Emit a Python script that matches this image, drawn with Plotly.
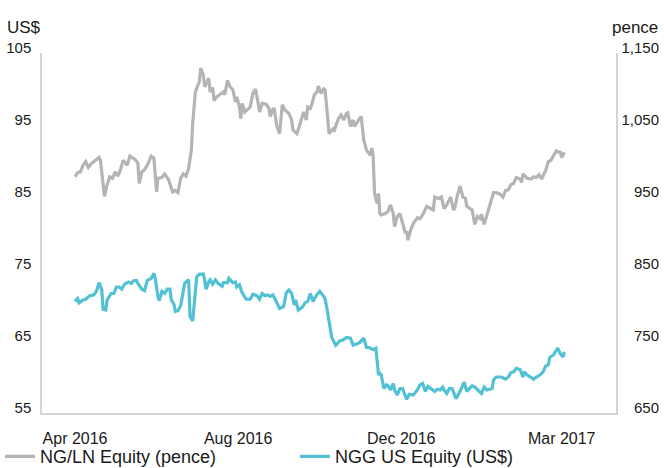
import pandas as pd
import plotly.graph_objects as go

# Series start date; observations are stored as day offsets from it
start = pd.Timestamp("2016-04-01")

# NG/LN Equity, price in pence
ng_ln_days = [
    0, 2, 4, 6, 8, 10, 12, 14, 16, 18,
    19, 21, 22, 24, 26, 28, 30, 32, 34, 36,
    39, 41, 43, 45, 47, 48, 50, 52, 54, 57,
    59, 61, 62, 65, 67, 70, 73, 75, 77, 79,
    81, 83, 85, 87, 88, 90, 92, 93, 94, 96,
    97, 99, 100, 101, 103, 104, 106, 108, 111, 112,
    114, 116, 118, 120, 121, 123, 124, 125, 127, 130,
    131, 133, 135, 137, 138, 140, 143, 145, 146, 148,
    149, 151, 153, 155, 157, 160, 162, 163, 166, 168,
    171, 173, 174, 176, 177, 179, 181, 182, 184, 186,
    187, 190, 193, 194, 197, 199, 201, 203, 204, 206,
    208, 209, 212, 214, 216, 218, 221, 222, 223, 224,
    226, 227, 228, 229, 232, 234, 236, 238, 239, 241,
    243, 245, 247, 248, 249, 251, 253, 256, 258, 260,
    263, 266, 268, 269, 272, 274, 276, 278, 281, 283,
    284, 286, 288, 290, 292, 293, 295, 297, 299, 301,
    303, 304, 306, 308, 310, 313, 315, 318, 320, 322,
    324, 326, 328, 330, 333, 334, 335, 338, 341, 343,
    345, 347, 349, 351, 352, 354, 356, 358, 360, 361,
    363, 364, 366,
]
ng_ln_pence = [
    978, 984, 985, 994, 999, 991, 996, 999, 1001, 1005,
    1001, 969, 951, 967, 978, 976, 985, 979, 988, 1001,
    994, 1007, 1004, 1002, 997, 969, 985, 988, 994, 1007,
    1004, 957, 976, 977, 982, 974, 957, 959, 956, 976,
    982, 979, 990, 1015, 1052, 1096, 1106, 1110, 1129, 1119,
    1103, 1112, 1115, 1096, 1102, 1084, 1089, 1092, 1096, 1092,
    1112, 1103, 1099, 1082, 1089, 1075, 1059, 1080, 1068, 1073,
    1075, 1094, 1100, 1080, 1068, 1080, 1079, 1073, 1062, 1072,
    1072, 1048, 1038, 1078, 1071, 1066, 1057, 1043, 1038, 1050,
    1068, 1057, 1075, 1073, 1078, 1092, 1096, 1104, 1094, 1100,
    1099, 1038, 1045, 1043, 1059, 1064, 1057, 1066, 1067, 1048,
    1057, 1048, 1057, 1062, 1029, 1015, 1008, 1018, 1006, 955,
    941, 955, 927, 925, 927, 930, 939, 927, 909, 923,
    927, 913, 900, 902, 890, 904, 913, 921, 920, 925,
    937, 934, 932, 950, 948, 950, 934, 939, 950, 932,
    934, 953, 965, 950, 948, 937, 934, 932, 912, 923,
    920, 926, 912, 924, 937, 956, 956, 954, 950, 959,
    960, 967, 969, 977, 975, 970, 982, 976, 975, 978,
    977, 981, 975, 983, 987, 999, 1001, 1008, 1014, 1013,
    1012, 1005, 1012,
]

# NGG US Equity, price in US$
ngg_days = [
    0, 2, 3, 6, 8, 11, 14, 16, 18, 20,
    21, 23, 24, 27, 29, 31, 33, 35, 37, 40,
    42, 44, 46, 47, 50, 52, 54, 57, 59, 60,
    62, 63, 65, 67, 69, 71, 72, 74, 75, 77,
    79, 81, 82, 85, 86, 88, 90, 91, 93, 96,
    97, 98, 100, 101, 103, 105, 107, 110, 111, 114,
    115, 118, 120, 121, 123, 125, 128, 131, 133, 136,
    138, 140, 142, 144, 146, 148, 151, 153, 156, 158,
    160, 162, 164, 165, 167, 170, 172, 174, 176, 178,
    180, 183, 186, 187, 189, 192, 195, 198, 200, 203,
    206, 208, 211, 213, 216, 218, 220, 223, 225, 227,
    228, 229, 231, 233, 234, 236, 238, 239, 241, 243,
    245, 247, 248, 250, 253, 256, 258, 260, 262, 264,
    267, 269, 271, 273, 275, 276, 278, 280, 282, 283,
    285, 288, 291, 293, 295, 297, 299, 302, 304, 306,
    308, 312, 313, 315, 319, 322, 324, 326, 328, 330,
    333, 335, 336, 338, 341, 343, 345, 348, 350, 352,
    354, 355, 358, 361, 363, 365, 366,
]
ngg_usd = [
    70.5, 70.9, 70.3, 70.7, 70.8, 71.3, 71.4, 71.9, 73.1, 72.1,
    69.4, 69.3, 70.7, 71.6, 71.6, 72.5, 72.5, 72.2, 72.9, 73.2,
    73.0, 73.4, 73.4, 73.0, 72.2, 72.0, 73.4, 73.7, 74.4, 73.7,
    71.2, 70.6, 71.9, 71.6, 72.2, 72.2, 70.7, 70.1, 69.1, 69.2,
    69.9, 71.9, 73.0, 73.5, 68.4, 67.8, 71.2, 73.9, 74.3, 74.3,
    73.4, 72.2, 73.2, 73.5, 72.9, 73.5, 73.0, 72.6, 73.1, 73.1,
    73.7, 73.1, 73.2, 72.5, 72.8, 71.7, 70.8, 70.8, 71.5, 71.3,
    70.8, 71.6, 71.3, 71.4, 71.2, 71.4, 70.3, 69.5, 69.8, 71.7,
    72.1, 71.6, 70.0, 70.7, 69.3, 69.7, 70.3, 70.5, 71.6, 70.5,
    71.2, 71.9, 71.2, 70.9, 68.9, 65.5, 64.4, 65.0, 65.1, 65.5,
    65.4, 64.4, 64.6, 64.8, 65.4, 64.1, 64.1, 63.8, 64.0, 60.3,
    60.5, 60.3, 58.4, 58.9, 58.8, 58.2, 59.1, 58.2, 57.5, 58.4,
    58.4, 57.2, 56.9, 57.6, 57.5, 58.2, 58.9, 59.1, 58.0, 58.7,
    58.2, 58.0, 58.3, 58.2, 58.6, 58.2, 57.7, 58.4, 58.4, 58.0,
    57.0, 58.0, 59.3, 58.0, 58.4, 58.8, 58.6, 58.0, 57.7, 58.6,
    58.2, 58.4, 59.6, 60.0, 60.0, 59.7, 60.0, 60.6, 60.7, 61.2,
    61.0, 60.0, 60.7, 60.3, 60.0, 59.7, 60.0, 60.3, 60.7, 61.5,
    61.7, 62.7, 63.1, 64.0, 63.2, 62.8, 63.5,
]

# Axis ticks
tick_dates = ["2016-04-01", "2016-08-01", "2016-12-01", "2017-03-31"]
tick_text = ["Apr 2016", "Aug 2016", "Dec 2016", "Mar 2017"]
usd_ticks = [55, 65, 75, 85, 95, 105]
pence_ticks = [650, 750, 850, 950, 1050, 1150]

GREY = "#b4b4b4"
CYAN = "#52c1d4"
AXIS = "#d4d4d4"
TEXT = "#1a1a1a"
FONT = "Liberation Sans, Arial, Helvetica, sans-serif"

ng_dates = start + pd.to_timedelta(ng_ln_days, unit="D")
ngg_dates = start + pd.to_timedelta(ngg_days, unit="D")

fig = go.Figure()
fig.add_trace(go.Scatter(
    x=ng_dates, y=ng_ln_pence, yaxis="y2", mode="lines",
    name="NG/LN Equity (pence)",
    line=dict(color=GREY, width=3.2),
))
fig.add_trace(go.Scatter(
    x=ngg_dates, y=ngg_usd, yaxis="y", mode="lines",
    name="NGG US Equity (US$)",
    line=dict(color=CYAN, width=3.2),
))

fig.update_layout(
    width=664, height=468,
    margin=dict(l=42, r=4, t=53, b=55, pad=0, autoexpand=False),
    paper_bgcolor="white", plot_bgcolor="white",
    font=dict(family=FONT, color=TEXT, size=15),
    showlegend=True,
    legend=dict(
        orientation="h", xref="container", yref="container",
        x=0.0, y=0.024, xanchor="left", yanchor="middle",
        font=dict(size=18), entrywidth=250, entrywidthmode="pixels",
        bgcolor="rgba(0,0,0,0)", borderwidth=0,
    ),
    xaxis=dict(
        type="date", domain=[0, 0.9288], automargin=False,
        range=[start - pd.Timedelta(days=24.7), start + pd.Timedelta(days=404.6)],
        tickvals=tick_dates, ticktext=tick_text,
        showline=True, linecolor=AXIS, linewidth=1.5,
        showgrid=False, zeroline=False, ticks="",
        tickfont=dict(size=16), ticklabelstandoff=10,
    ),
    yaxis=dict(
        range=[55, 105], tickvals=usd_ticks, automargin=False,
        showline=True, mirror=True, linecolor=AXIS, linewidth=1.5,
        showgrid=False, zeroline=False, ticks="",
        tickfont=dict(size=15), ticklabelshift=-5, ticklabelstandoff=6,
    ),
    # pence scale: labels right-aligned against the right edge of the figure
    yaxis2=dict(
        overlaying="y", anchor="free", position=1.0, side="left",
        automargin=False,
        range=[650, 1150], tickvals=pence_ticks, tickformat=",",
        showline=False, showgrid=False, zeroline=False, ticks="",
        tickfont=dict(size=15), ticklabelshift=-5, ticklabelstandoff=1,
    ),
    annotations=[
        dict(text="US$", xref="paper", yref="paper", x=-0.06, y=1.072,
             xanchor="left", yanchor="middle", showarrow=False,
             font=dict(size=17)),
        dict(text="pence", xref="paper", yref="paper", x=1.0, y=1.072,
             xanchor="right", yanchor="middle", showarrow=False,
             font=dict(size=17)),
    ],
)

fig.write_html("out.html")
